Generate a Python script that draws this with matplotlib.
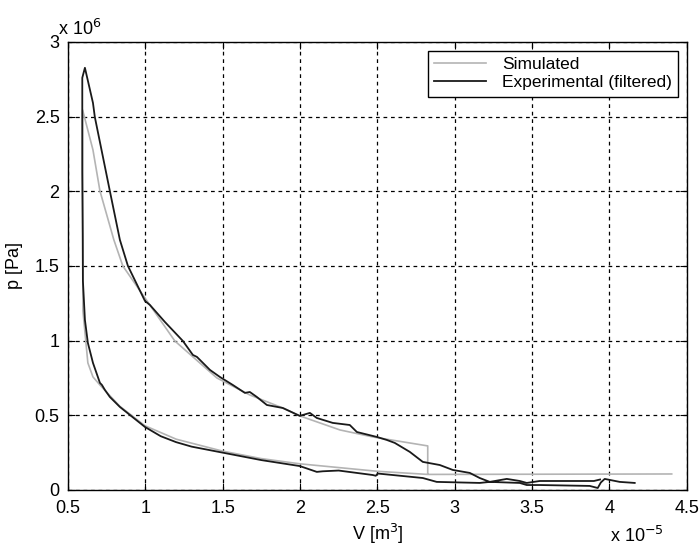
import numpy as np
import matplotlib
matplotlib.use("Agg")
import matplotlib.pyplot as plt

plt.rcParams['font.family'] = ['Liberation Sans', 'DejaVu Sans']

# volume in 1e-5 m^3, pressure in 1e6 Pa
V_sim = [4.403, 2.826, 2.500, 2.250, 2.000, 1.750, 1.500, 1.200, 0.998, 0.836, 0.707, 0.662,
         0.629, 0.597, 0.595, 0.595, 0.662, 0.707, 0.797, 0.855, 0.998, 1.191, 1.463, 1.676,
         1.889, 1.999, 2.258, 2.471, 2.826, 2.826]
p_sim = [0.107, 0.104, 0.125, 0.150, 0.175, 0.210, 0.260, 0.340, 0.430, 0.560, 0.703, 0.757,
         0.851, 1.200, 2.000, 2.545, 2.277, 2.003, 1.675, 1.500, 1.286, 0.998, 0.750, 0.636,
         0.549, 0.496, 0.402, 0.355, 0.295, 0.107]

V_exp = [4.164, 4.067, 3.970, 3.945, 3.925, 3.873, 3.550, 3.466, 3.421, 3.227, 3.162,
         2.884, 2.794, 2.503, 2.490, 2.471, 2.250, 2.148, 2.109, 1.999, 1.750, 1.500,
         1.300, 1.200, 1.100, 0.998, 0.901, 0.836, 0.771, 0.739, 0.720, 0.707, 0.662,
         0.629, 0.610, 0.597, 0.596, 0.593, 0.593, 0.610,
         0.662, 0.674, 0.771, 0.836, 0.888, 0.998, 1.030, 1.127, 1.243, 1.308, 1.334,
         1.418, 1.482, 1.566, 1.644, 1.676, 1.721, 1.786, 1.889, 1.999, 2.064, 2.109,
         2.212, 2.322, 2.368, 2.497, 2.561, 2.613, 2.710, 2.794, 2.904, 2.988, 3.098,
         3.162, 3.227, 3.337, 3.421, 3.466, 3.550, 3.900, 3.940]
p_exp = [0.047, 0.054, 0.074, 0.050, 0.013, 0.027, 0.033, 0.033, 0.047, 0.054, 0.047,
         0.054, 0.080, 0.110, 0.095, 0.100, 0.130, 0.125, 0.121, 0.160, 0.200, 0.250,
         0.290, 0.320, 0.360, 0.422, 0.502, 0.556, 0.623, 0.670, 0.703, 0.717, 0.851,
         0.985, 1.139, 1.400, 1.700, 2.130, 2.760, 2.827,
         2.592, 2.498, 2.003, 1.675, 1.500, 1.266, 1.239, 1.125, 0.998, 0.904, 0.891,
         0.804, 0.757, 0.703, 0.650, 0.656, 0.623, 0.569, 0.549, 0.496, 0.516, 0.482,
         0.449, 0.435, 0.388, 0.355, 0.335, 0.315, 0.255, 0.188, 0.167, 0.134, 0.114,
         0.080, 0.054, 0.074, 0.060, 0.047, 0.060, 0.060, 0.070]

fig = plt.figure(figsize=(7, 5.45), dpi=100)
ax = fig.add_axes([0.097, 0.101, 0.884, 0.822])

ax.plot(V_sim, p_sim, color='#b4b4b4', lw=1.2, label='Simulated')
ax.plot(V_exp, p_exp, color='#1a1a1a', lw=1.3, label='Experimental (filtered)')

ax.set_xlim(0.5, 4.5)
ax.set_ylim(0, 3)
ax.set_xticks(np.arange(0.5, 4.51, 0.5))
ax.set_yticks(np.arange(0, 3.01, 0.5))
ax.set_xticklabels(['0.5', '1', '1.5', '2', '2.5', '3', '3.5', '4', '4.5'])
ax.set_yticklabels(['0', '0.5', '1', '1.5', '2', '2.5', '3'])
ax.grid(True, color='black', linestyle=(0, (3, 3)), lw=0.9)
ax.tick_params(direction='in', top=True, right=True, length=5, labelsize=13)
ax.tick_params(axis='x', pad=7)
ax.tick_params(axis='y', pad=6)
for s in ax.spines.values():
    s.set_linewidth(1.0)

ax.set_xlabel('V [m$^3$]', fontsize=13, labelpad=4)
ax.set_ylabel('p [Pa]', fontsize=13, labelpad=8)
fig.text(0.083, 0.935, r'x 10$^6$', fontsize=13)
fig.text(0.872, 0.006, r'x 10$^{-5}$', fontsize=13)

leg = ax.legend(loc='upper right', fontsize=12.5, fancybox=False, framealpha=1,
                edgecolor='black', borderpad=0.35, labelspacing=0.2,
                handlelength=3.0, handletextpad=0.9, borderaxespad=0.5)
leg.get_frame().set_linewidth(1.0)

fig.savefig('out.png', dpi=100)
